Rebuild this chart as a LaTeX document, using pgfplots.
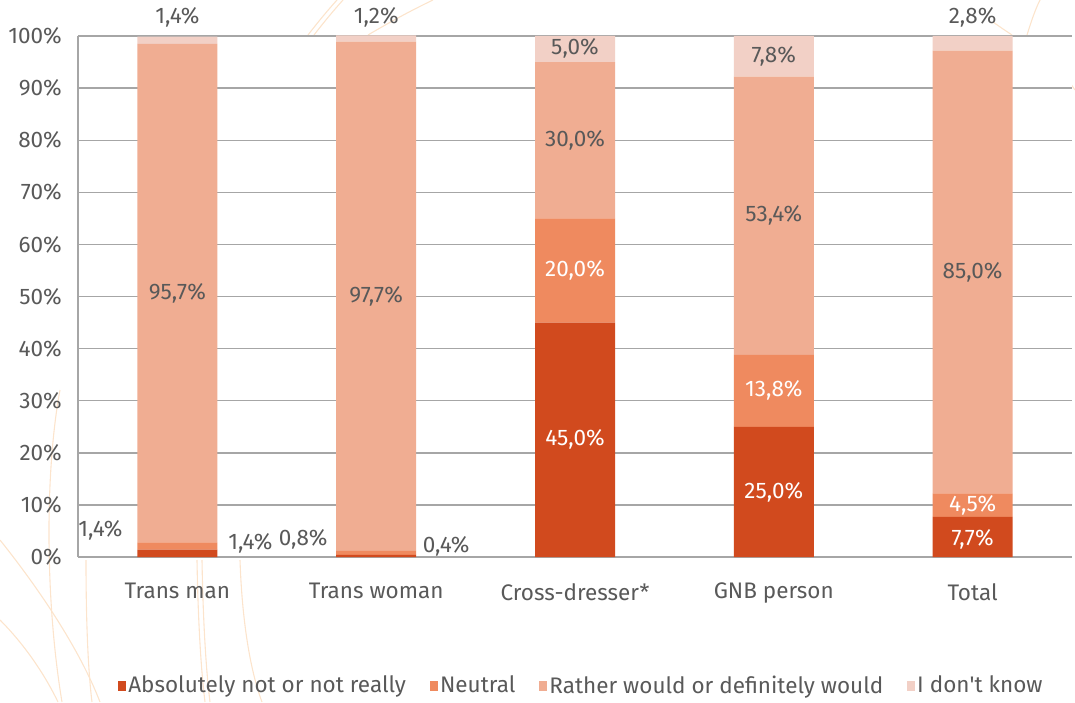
\documentclass[border=0pt]{standalone}
\usepackage{pgfplots}
\pgfplotsset{compat=1.18}
\usepackage{fontspec}
\setmainfont{Fira Sans}
\definecolor{cabs}{HTML}{D14A1E}
\definecolor{cneu}{HTML}{EF8A5F}
\definecolor{crat}{HTML}{F0AD92}
\definecolor{cdk}{HTML}{F2D0C6}
\definecolor{tgray}{HTML}{595959}
\definecolor{ggray}{HTML}{A6A6A6}
\definecolor{arcc}{HTML}{FCE4CC}
\tikzset{lab/.style={font=\fontsize{22.5}{26}\selectfont, text=tgray, inner sep=0pt},
         wlab/.style={font=\fontsize{22.5}{26}\selectfont, text=white, inner sep=0pt}}
\begin{document}
\begin{tikzpicture}
% decorative arcs, pixel coordinates (origin = top-left of image)
\begin{scope}[x=1pt,y=-1pt,shift={(-78pt,557pt)}, arcc, line width=1.1pt]
\draw (0,540) .. controls (40,590) and (80,650) .. (100,702);
\draw (0,620) .. controls (25,645) and (45,675) .. (58,702);
\draw (60,390) .. controls (45,470) and (45,600) .. (62,702);
\draw (86,560) .. controls (86,620) and (88,670) .. (92,702);
\draw (197,560) .. controls (198,620) and (201,670) .. (205,702);
\draw (202,560) .. controls (203,620) and (206,670) .. (210,702);
\draw (240,560) .. controls (242,620) and (250,670) .. (262,702);
\draw (308,35) .. controls (318,22) and (328,10) .. (337,0);
\draw (314,35) .. controls (324,22) and (334,10) .. (343,0);
\draw (368,35) .. controls (390,22) and (412,10) .. (433,0);
\draw (993,22) .. controls (1000,27) and (1006,31) .. (1012,35);
\draw (1027,35) .. controls (1031,22) and (1035,10) .. (1040,0);
\draw (1068,80) -- (1075,90);
\end{scope}
\begin{axis}[
  scale only axis, width=994pt, height=521pt,
  anchor=south west, at={(0,0)},
  ybar stacked, bar width=80pt,
  xmin=-0.5, xmax=4.5, ymin=0, ymax=100,
  clip=false,
  axis background/.style={fill=white},
  axis x line*=bottom, axis y line*=left,
  axis line style={ggray, line width=1.4pt, -},
  ymajorgrids, grid style={ggray, line width=1.4pt},
  major tick length=0pt,
  ytick={0,10,...,100},
  yticklabels={0\%,10\%,20\%,30\%,40\%,50\%,60\%,70\%,80\%,90\%,100\%},
  yticklabel style={font=\fontsize{22.5}{26}\selectfont, text=tgray, inner sep=0pt, xshift=-16pt},
  xtick={0,1,2,3,4},
  xticklabels={Trans man,Trans woman,Cross-dresser*,GNB person,Total},
  xticklabel style={font=\fontsize{22.5}{26}\selectfont, text=tgray, inner sep=0pt, yshift=-26pt},
  legend style={at={(0.506,-0.246)}, anchor=center, draw=none, fill=none,
    legend columns=4, font=\fontsize{22.5}{26}\selectfont, text=tgray,
    /tikz/every odd column/.append style={column sep=1pt},
    /tikz/every even column/.append style={column sep=23pt},
    nodes={inner sep=1pt}},
  legend image code/.code={\fill[#1] (0pt,-6pt) rectangle (8pt,4pt);},
]
\addplot[fill=cabs, draw=none] coordinates {(0,1.4) (1,0.4) (2,45.0) (3,25.0) (4,7.7)};
\addplot[fill=cneu, draw=none] coordinates {(0,1.4) (1,0.8) (2,20.0) (3,13.8) (4,4.5)};
\addplot[fill=crat, draw=none] coordinates {(0,95.7) (1,97.7) (2,30.0) (3,53.4) (4,85.0)};
\addplot[fill=cdk, draw=none] coordinates {(0,1.4) (1,1.2) (2,5.0) (3,7.8) (4,2.8)};
\legend{Absolutely not or not really,Neutral,Rather would or definitely would,I don\textquotesingle t know}
% label anchor points (axis coordinates)
\coordinate (a1) at (axis cs:0,103.6);
\coordinate (a2) at (axis cs:0,50.65);
\coordinate (a3) at (axis cs:-0.387,5.2);
\coordinate (a4) at (axis cs:0.367,2.7);
\coordinate (b1) at (axis cs:1,103.6);
\coordinate (b2) at (axis cs:1,50.0);
\coordinate (b3) at (axis cs:0.633,3.3);
\coordinate (b4) at (axis cs:1.352,2.1);
\coordinate (c1) at (axis cs:2,22.5);
\coordinate (c2) at (axis cs:2,55);
\coordinate (c3) at (axis cs:2,80);
\coordinate (c4) at (axis cs:2,97.6);
\coordinate (d1) at (axis cs:3,12.5);
\coordinate (d2) at (axis cs:3,31.9);
\coordinate (d3) at (axis cs:3,65.5);
\coordinate (d4) at (axis cs:3,96.1);
\coordinate (e1) at (axis cs:4,3.4);
\coordinate (e2) at (axis cs:4,9.95);
\coordinate (e3) at (axis cs:4,54.7);
\coordinate (e4) at (axis cs:4,103.6);
\coordinate (bbA) at (rel axis cs:0,0);
\coordinate (bbB) at (rel axis cs:1,1);
\end{axis}
\node[lab] at (a1) {1,4\%};
\node[lab] at (a2) {95,7\%};
\node[lab] at (a3) {1,4\%};
\node[lab] at (a4) {1,4\%};
\node[lab] at (b1) {1,2\%};
\node[lab] at (b2) {97,7\%};
\node[lab] at (b3) {0,8\%};
\node[lab] at (b4) {0,4\%};
\node[wlab] at (c1) {45,0\%};
\node[wlab] at (c2) {20,0\%};
\node[lab] at (c3) {30,0\%};
\node[lab] at (c4) {5,0\%};
\node[wlab] at (d1) {25,0\%};
\node[wlab] at (d2) {13,8\%};
\node[lab] at (d3) {53,4\%};
\node[lab] at (d4) {7,8\%};
\node[wlab] at (e1) {7,7\%};
\node[wlab] at (e2) {4,5\%};
\node[lab] at (e3) {85,0\%};
\node[lab] at (e4) {2,8\%};
\pgfresetboundingbox
\path ([xshift=-78pt,yshift=-145pt]bbA) rectangle ([xshift=3pt,yshift=36pt]bbB);
\end{tikzpicture}
\end{document}
